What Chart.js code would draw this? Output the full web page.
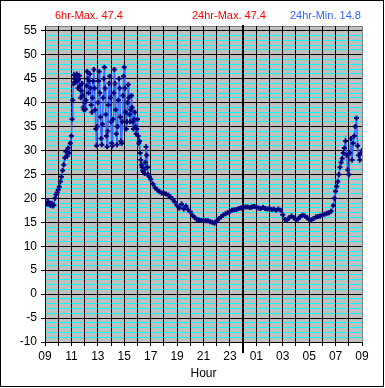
<!DOCTYPE html>
<html>
<head>
<meta charset="utf-8">
<script src="https://cdn.jsdelivr.net/npm/chart.js@4"></script>
<style>
body { margin: 0; background: #fff; }
canvas { display: block; }
</style>
</head>
<body>
<canvas id="myChart" width="385" height="388"></canvas>
<script>
// minutes after 09:00 and temperature readings
var minutes = [
    0, 5, 10, 15, 20, 25, 30, 35, 40, 45, 50, 55, 60, 65, 70, 75, 80, 85, 90, 95, 100, 105, 110, 115,
    120, 123, 126, 129, 132, 135, 138, 141, 144, 147, 150, 153, 156, 159, 162, 165, 168, 171, 174, 177,
    180, 183, 186, 189, 192, 195, 198, 201, 204, 207, 210, 213, 216, 219, 222, 225, 228, 231, 234, 237,
    240, 243, 246, 249, 252, 255, 258, 261, 264, 267, 270, 273, 276, 279, 282, 285, 288, 291, 294, 297,
    300, 303, 306, 309, 312, 315, 318, 321, 324, 327, 330, 333, 336, 339, 342, 345, 348, 351, 354, 357,
    360, 363, 366, 369, 372, 375, 378, 381, 384, 387, 390, 393, 396, 399, 402, 405, 408, 411, 414, 417,
    420, 423, 426, 429, 432, 435, 438, 441, 444, 447, 450, 453, 456, 459, 462, 465, 468, 471, 474, 480,
    490, 500, 510, 520, 530, 540, 550, 560, 570, 580, 590, 600, 610, 620, 630, 640, 650, 660, 670, 680,
    690, 700, 710, 720, 730, 740, 750, 760, 770, 780, 790, 800, 810, 820, 830, 840, 850, 860, 870, 880,
    890, 900, 910, 920, 930, 940, 950, 960, 970, 980, 990, 1000, 1010, 1020, 1030, 1040, 1050, 1060, 1070,
    1080, 1090, 1100, 1110, 1120, 1130, 1140, 1150, 1160, 1170, 1180, 1190, 1200, 1210, 1220, 1230, 1240,
    1250, 1260, 1270, 1280, 1290, 1300, 1310,
    1315, 1320, 1325, 1330, 1335, 1340, 1345, 1350, 1355, 1360, 1365, 1370, 1375, 1380, 1385, 1390, 1395,
    1400, 1405, 1410, 1415, 1420, 1425, 1430, 1435, 1440
];
var temps = [
    19.8, 19.0, 18.8, 19.3, 18.9, 18.5, 19.0, 18.4, 18.6, 20.0, 20.8, 21.2, 21.8, 22.4, 23.5, 24.5, 25.8, 27.0, 28.5, 29.8, 28.8, 30.5, 29.5, 31.5,
    33.0, 36.5, 40.5, 44.0, 45.8, 45.0, 44.2, 45.5, 46.0, 44.5, 43.0, 44.8, 45.6, 43.5, 41.0, 42.5, 44.0, 41.5, 39.0, 38.5,
    40.0, 38.6, 40.5, 43.5, 46.5, 45.0, 42.0, 44.5, 46.0, 43.0, 39.5, 38.0, 41.0, 44.5, 46.9, 43.0, 38.5, 34.5, 31.0, 35.0,
    40.0, 44.5, 46.5, 42.0, 37.0, 32.5, 31.2, 35.5, 41.0, 45.0, 47.4, 43.0, 37.5, 33.0, 30.8, 34.0, 39.5, 44.0, 45.5, 41.0,
    36.0, 31.5, 31.0, 36.5, 42.0, 46.9, 44.0, 38.5, 33.5, 31.2, 35.0, 40.5, 45.0, 43.0, 37.0, 32.0, 31.5, 36.0, 41.5, 45.5,
    47.4, 43.0, 38.0, 34.5, 36.0, 40.0, 43.8, 41.0, 37.5, 36.0, 38.5, 41.5, 39.0, 36.0, 34.5, 36.5, 38.0, 35.0, 33.5, 34.5,
    36.5, 33.0, 31.5, 32.0, 29.5, 28.0, 27.0, 26.5, 25.8, 25.5, 26.0, 25.2, 27.5, 30.8, 29.0, 26.5, 25.0, 24.8, 24.5, 24.0,
    23.0, 22.2, 21.8, 21.4, 21.1, 21.0, 20.9, 20.7, 20.3, 19.8, 19.2, 18.5, 18.0, 18.8, 17.8, 18.4, 17.6, 17.2, 16.4, 16.0,
    15.6, 15.5, 15.4, 15.5, 15.3, 15.3, 15.1, 15.0, 14.8, 15.3, 15.8, 16.1, 16.5, 16.8, 17.0, 17.3, 17.5, 17.6, 17.7, 17.9,
    18.0, 18.1, 18.2, 18.2, 18.1, 18.2, 18.3, 18.2, 18.0, 17.9, 18.1, 17.9, 17.8, 17.9, 17.7, 17.8, 17.5, 17.8, 17.5,
    16.6, 15.6, 15.5, 16.0, 16.3, 16.0, 15.5, 15.7, 16.2, 16.5, 16.3, 16.0, 15.6, 15.5, 15.8, 16.1, 16.2,
    16.3, 16.5, 16.7, 16.9, 17.0, 17.3, 18.5,
    20.0, 21.5, 22.5, 23.5, 25.0, 26.5, 27.5, 28.3, 29.5, 30.5, 32.0, 29.0, 26.0, 25.0, 29.5, 32.5, 28.0,
    31.5, 33.0, 35.0, 36.8, 31.0, 29.0, 28.0, 29.5, 30.0
];
var headers = ["6hr-Max. 47.4", "24hr-Max. 47.4", "24hr-Min. 14.8"];
var headerColors = ["#ff0000", "#ff0000", "#3366ff"];
var startHour = 9;
var yMin = -10;
var yMax = 56;

var points = minutes.map(function (m, i) {
    return { x: m / 60, y: temps[i] };
});

function pad(n) {
    return n < 10 ? "0" + n : "" + n;
}

var frame = {
    id: "frame",
    beforeDraw: function (chart) {
        var c = chart.ctx, a = chart.chartArea;
        c.save();
        c.fillStyle = "#fff";
        c.fillRect(0, 0, chart.width, chart.height);
        c.fillStyle = "#c0c0c0";
        c.fillRect(a.left, a.top, a.right - a.left, a.bottom - a.top);
        c.restore();
    },
    beforeDatasetsDraw: function (chart) {
        // midnight marker
        var c = chart.ctx, a = chart.chartArea;
        var x = Math.round(chart.scales.x.getPixelForValue(24 - startHour));
        c.save();
        c.fillStyle = "#000";
        c.fillRect(x - 1, a.top - 1, 2, a.bottom - a.top + 12);
        c.restore();
    },
    afterDraw: function (chart) {
        var c = chart.ctx;
        c.save();
        c.font = '11px "Liberation Sans"';
        c.textBaseline = "alphabetic";
        var xs = [55, 192, 290];
        headers.forEach(function (t, i) {
            c.fillStyle = headerColors[i];
            c.fillText(t, xs[i], 19);
        });
        c.strokeStyle = "#000";
        c.lineWidth = 1;
        c.strokeRect(0.5, 0.5, 383, 386);
        c.restore();
    }
};

var ctx = document.getElementById("myChart");
var myChart = new Chart(ctx, {
    type: "line",
    data: {
        datasets: [
            {
                label: "Temp",
                data: points,
                borderColor: "#3366ff",
                borderWidth: 1.5,
                pointStyle: "cross",
                pointRadius: 2.5,
                pointBorderWidth: 2,
                pointBorderColor: "#000080",
                fill: false,
                lineTension: 0
            }
        ]
    },
    options: {
        responsive: false,
        animation: false,
        devicePixelRatio: 1,
        layout: { padding: { top: 26, right: 23, left: 0, bottom: 0 } },
        plugins: { legend: { display: false }, tooltip: { enabled: false } },
        scales: {
            x: {
                type: "linear",
                min: 0,
                max: 24,
                afterFit: function (s) { s.height = 46; },
                ticks: {
                    stepSize: 1,
                    autoSkip: false,
                    maxRotation: 0,
                    padding: 3,
                    color: "#000",
                    font: { family: "Liberation Sans", size: 12 },
                    callback: function (v) {
                        return v % 2 === 0 ? pad((startHour + v) % 24) : "";
                    }
                },
                grid: {
                    z: -1,
                    color: function (c) {
                        return c.tick && c.tick.value === 24 ? "#808080" : "#000";
                    },
                    tickColor: "#000",
                    lineWidth: 1,
                    tickLength: 4
                },
                border: { color: "#000", width: 1 },
                title: {
                    display: true,
                    text: "Hour",
                    color: "#000",
                    font: { family: "Liberation Sans", size: 12 },
                    padding: { top: 0, bottom: 7 }
                }
            },
            y: {
                min: yMin,
                max: yMax,
                afterFit: function (s) { s.width = 45; },
                ticks: {
                    stepSize: 1,
                    maxTicksLimit: 100,
                    autoSkip: false,
                    padding: 4,
                    color: "#000",
                    font: { family: "Liberation Sans", size: 12 },
                    callback: function (v) {
                        return v % 5 === 0 ? v : "";
                    }
                },
                grid: {
                    z: -2,
                    color: function (c) {
                        var v = c.tick ? c.tick.value : 0;
                        if (v === yMax) return "#808080";
                        return v % 5 === 0 ? "#000" : "#00ffff";
                    },
                    tickColor: function (c) {
                        var v = c.tick ? c.tick.value : 0;
                        return v % 5 === 0 && v !== yMax ? "#000" : "rgba(0,0,0,0)";
                    },
                    lineWidth: 1,
                    tickLength: 4
                },
                border: { color: "#000", width: 1 }
            }
        }
    },
    plugins: [frame]
});
</script>
</body>
</html>
